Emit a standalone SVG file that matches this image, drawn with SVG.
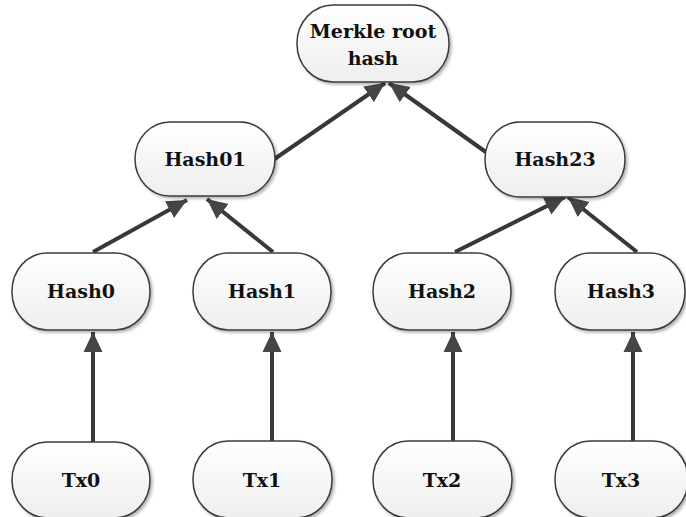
<svg xmlns="http://www.w3.org/2000/svg" width="686" height="517" viewBox="0 0 686 517">
  <defs>
    <linearGradient id="nodeFill" x1="0" y1="0" x2="0" y2="1">
      <stop offset="0" stop-color="#ffffff"/>
      <stop offset="1" stop-color="#eeeeee"/>
    </linearGradient>
    <filter id="shadow" x="-10%" y="-10%" width="125%" height="130%">
      <feGaussianBlur in="SourceAlpha" stdDeviation="1.5"/>
      <feOffset dx="2" dy="2" result="b"/>
      <feComponentTransfer><feFuncA type="linear" slope="0.3"/></feComponentTransfer>
      <feMerge><feMergeNode/><feMergeNode in="SourceGraphic"/></feMerge>
    </filter>
    <marker id="head" markerUnits="userSpaceOnUse" markerWidth="21" markerHeight="20" refX="20" refY="10" orient="auto">
      <path d="M0,0.5 L20,10 L0,19.5 z" fill="#454545"/>
    </marker>
  </defs>
  <style>
    .node rect { fill: url(#nodeFill); stroke: #3c3c3c; stroke-width: 1.5; filter: url(#shadow); }
    .node text { font-family: "DejaVu Serif", "Liberation Serif", serif; font-weight: bold; font-size: 19px; fill: #111111; text-anchor: middle; }
    .edges line { stroke: #383838; stroke-width: 4; marker-end: url(#head); }
  </style>
  <rect width="686" height="517" fill="#ffffff"/>

  <g class="edges" id="connectors">
    <line x1="93" y1="442" x2="93" y2="332"/>
    <line x1="272" y1="441" x2="272" y2="332"/>
    <line x1="453" y1="441" x2="453" y2="332"/>
    <line x1="633" y1="441" x2="633" y2="332"/>
    <line x1="93" y1="252" x2="187" y2="200"/>
    <line x1="273" y1="252" x2="207" y2="199"/>
    <line x1="455" y1="252" x2="565" y2="197"/>
    <line x1="637" y1="252" x2="568" y2="197"/>
    <line x1="273" y1="160" x2="385" y2="83"/>
    <line x1="497" y1="160" x2="389" y2="83"/>
  </g>

  <g class="node" id="merkle-root">
    <rect x="297" y="5" width="152" height="77" rx="36" ry="38"/>
    <text x="373" y="38">Merkle root</text>
    <text x="373" y="65">hash</text>
  </g>
  <g class="node" id="hash01">
    <rect x="135" y="122" width="140" height="74" rx="35" ry="37"/>
    <text x="205" y="166">Hash01</text>
  </g>
  <g class="node" id="hash23">
    <rect x="485" y="122" width="140" height="75" rx="35" ry="37"/>
    <text x="555" y="166">Hash23</text>
  </g>
  <g class="node" id="hash0">
    <rect x="12" y="253" width="138" height="77" rx="35" ry="38"/>
    <text x="81" y="298">Hash0</text>
  </g>
  <g class="node" id="hash1">
    <rect x="193" y="253" width="138" height="77" rx="35" ry="38"/>
    <text x="262" y="298">Hash1</text>
  </g>
  <g class="node" id="hash2">
    <rect x="373" y="253" width="138" height="77" rx="35" ry="38"/>
    <text x="442" y="298">Hash2</text>
  </g>
  <g class="node" id="hash3">
    <rect x="555" y="253" width="130" height="77" rx="35" ry="38"/>
    <text x="621" y="298">Hash3</text>
  </g>
  <g class="node" id="tx0">
    <rect x="12" y="442" width="138" height="76" rx="35" ry="38"/>
    <text x="81" y="487">Tx0</text>
  </g>
  <g class="node" id="tx1">
    <rect x="193" y="441" width="139" height="77" rx="35" ry="38"/>
    <text x="262" y="487">Tx1</text>
  </g>
  <g class="node" id="tx2">
    <rect x="373" y="441" width="139" height="77" rx="35" ry="38"/>
    <text x="442" y="487">Tx2</text>
  </g>
  <g class="node" id="tx3">
    <rect x="555" y="441" width="133" height="77" rx="35" ry="38"/>
    <text x="621" y="487">Tx3</text>
  </g>
</svg>
